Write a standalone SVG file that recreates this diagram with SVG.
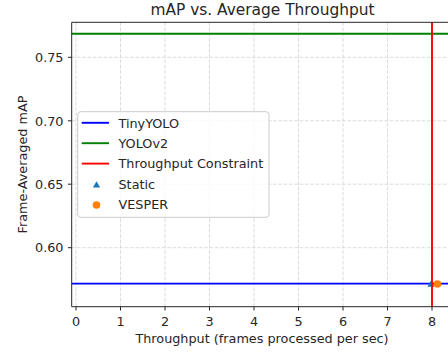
<svg xmlns="http://www.w3.org/2000/svg" width="448" height="352" viewBox="0 0 448 352">
<style>
text{font-family:"DejaVu Sans","Liberation Sans",sans-serif;fill:#262626;font-size:12.8px}
.grid line{stroke:#d3d3d3;stroke-width:0.8;stroke-dasharray:3.7,1.6}
.tick line{stroke:#262626;stroke-width:1}
.yt{text-anchor:end}
.xt{text-anchor:middle}
.spine{stroke:#262626;stroke-width:1;fill:none}
</style>
<rect width="448" height="352" fill="#fff"/>
<text x="262.5" y="15" text-anchor="middle" style="font-size:15.4px">mAP vs. Average Throughput</text>
<g class="grid">
<line x1="76" y1="22.3" x2="76" y2="306.7"/>
<line x1="120.5" y1="22.3" x2="120.5" y2="306.7"/>
<line x1="165" y1="22.3" x2="165" y2="306.7"/>
<line x1="209.5" y1="22.3" x2="209.5" y2="306.7"/>
<line x1="254" y1="22.3" x2="254" y2="306.7"/>
<line x1="298.5" y1="22.3" x2="298.5" y2="306.7"/>
<line x1="343" y1="22.3" x2="343" y2="306.7"/>
<line x1="387.5" y1="22.3" x2="387.5" y2="306.7"/>
<line x1="432" y1="22.3" x2="432" y2="306.7"/>
<line x1="71.7" y1="57.3" x2="448" y2="57.3"/>
<line x1="71.7" y1="120.8" x2="448" y2="120.8"/>
<line x1="71.7" y1="184.2" x2="448" y2="184.2"/>
<line x1="71.7" y1="247.7" x2="448" y2="247.7"/>
</g>
<g id="connectors">
<line id="tinyyolo" x1="71.7" y1="283.6" x2="448" y2="283.6" stroke="#0000ff" stroke-width="1.9"/>
<line id="yolov2" x1="71.7" y1="33.7" x2="448" y2="33.7" stroke="#008000" stroke-width="1.9"/>
</g>
<g id="data">
<polygon points="431,280.4 434.6,286.8 427.4,286.8" fill="#1f77b4"/>
<circle cx="437.5" cy="284" r="3.8" fill="#ff7f0e"/>
</g>
<line id="constraint" x1="432" y1="22.3" x2="432" y2="306.7" stroke="#ff0000" stroke-width="1.9"/>
<path class="spine" d="M448,22.3 H71.7 V306.7 H448"/>
<g class="tick">
<line x1="76" y1="306.7" x2="76" y2="310.5"/>
<line x1="120.5" y1="306.7" x2="120.5" y2="310.5"/>
<line x1="165" y1="306.7" x2="165" y2="310.5"/>
<line x1="209.5" y1="306.7" x2="209.5" y2="310.5"/>
<line x1="254" y1="306.7" x2="254" y2="310.5"/>
<line x1="298.5" y1="306.7" x2="298.5" y2="310.5"/>
<line x1="343" y1="306.7" x2="343" y2="310.5"/>
<line x1="387.5" y1="306.7" x2="387.5" y2="310.5"/>
<line x1="432" y1="306.7" x2="432" y2="310.5"/>
<line x1="67.9" y1="57.3" x2="71.7" y2="57.3"/>
<line x1="67.9" y1="120.8" x2="71.7" y2="120.8"/>
<line x1="67.9" y1="184.2" x2="71.7" y2="184.2"/>
<line x1="67.9" y1="247.7" x2="71.7" y2="247.7"/>
</g>
<g id="xticks" class="xt">
<text x="76" y="325.6" class="xt">0</text>
<text x="120.5" y="325.6" class="xt">1</text>
<text x="165" y="325.6" class="xt">2</text>
<text x="209.5" y="325.6" class="xt">3</text>
<text x="254" y="325.6" class="xt">4</text>
<text x="298.5" y="325.6" class="xt">5</text>
<text x="343" y="325.6" class="xt">6</text>
<text x="387.5" y="325.6" class="xt">7</text>
<text x="432" y="325.6" class="xt">8</text>
</g>
<g id="yticks">
<text x="63.5" y="62" class="yt">0.75</text>
<text x="63.5" y="125.5" class="yt">0.70</text>
<text x="63.5" y="188.9" class="yt">0.65</text>
<text x="63.5" y="252.4" class="yt">0.60</text>
</g>
<text x="262" y="342.5" text-anchor="middle">Throughput (frames processed per sec)</text>
<text transform="translate(27,164.5) rotate(-90)" text-anchor="middle">Frame-Averaged mAP</text>
<g id="legend">
<rect x="77.7" y="111.7" width="191.3" height="105.6" rx="3" fill="#fff" fill-opacity="0.8" stroke="#cccccc" stroke-width="1"/>
<line x1="81.7" y1="122.8" x2="109" y2="122.8" stroke="#0000ff" stroke-width="1.9"/>
<line x1="81.7" y1="143.2" x2="109" y2="143.2" stroke="#008000" stroke-width="1.9"/>
<line x1="81.7" y1="163.6" x2="109" y2="163.6" stroke="#ff0000" stroke-width="1.9"/>
<polygon points="96.5,181.2 100.1,187.6 92.9,187.6" fill="#1f77b4"/>
<circle cx="96.5" cy="205" r="3.8" fill="#ff7f0e"/>
<text x="118.5" y="127.5">TinyYOLO</text>
<text x="118.5" y="147.9">YOLOv2</text>
<text x="118.5" y="168.3">Throughput Constraint</text>
<text x="118.5" y="188.7">Static</text>
<text x="118.5" y="209.1">VESPER</text>
</g>
</svg>
